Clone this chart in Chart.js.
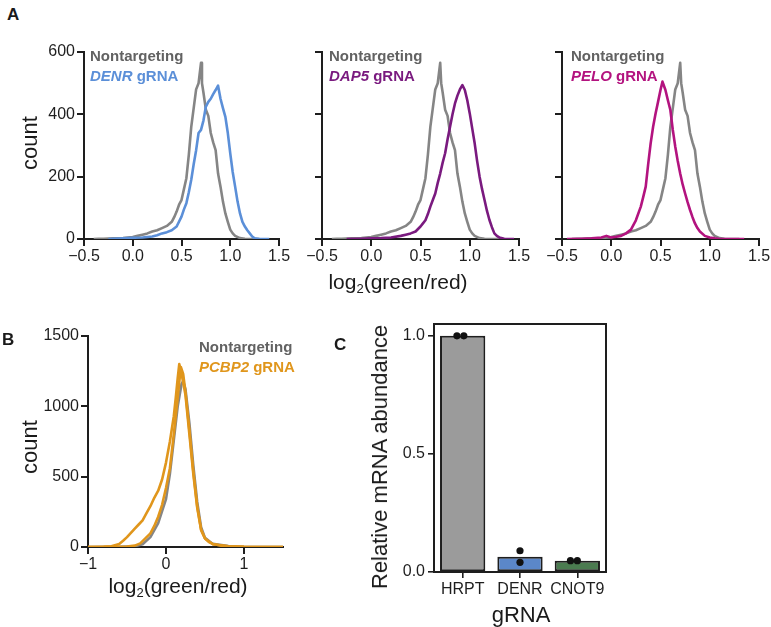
<!DOCTYPE html>
<html>
<head>
<meta charset="utf-8">
<script src="https://cdn.jsdelivr.net/npm/chart.js@4.4.1/dist/chart.umd.min.js"></script>
<style>
  body { margin: 0; background: #fff; }
  #fig { position: relative; width: 771px; height: 627px; font-family: "Liberation Sans", Arial, sans-serif; color: #1a1a1a; }
  #fig canvas { position: absolute; }
  .t { position: absolute; white-space: nowrap; }
  .panel { font-weight: bold; font-size: 17px; line-height: 17px; }
  .leg { font-weight: bold; font-size: 15px; line-height: 20px; }
  .ax { font-size: 21px; line-height: 21px; }
  .rot { font-size: 22px; line-height: 22px; transform: translate(-50%, -50%) rotate(-90deg); }
  .ctr { transform: translateX(-50%); }
  sub { font-size: 13px; vertical-align: -4px; line-height: 0; }
</style>
</head>
<body>
<div id="fig">
  <canvas id="a1" width="300" height="244" style="left:0px;top:36px"></canvas>
  <canvas id="a2" width="250" height="244" style="left:290px;top:36px"></canvas>
  <canvas id="a3" width="241" height="244" style="left:530px;top:36px"></canvas>
  <canvas id="b" width="300" height="260" style="left:0px;top:320px"></canvas>
  <canvas id="c" width="280" height="321" style="left:340px;top:306px"></canvas>

  <div class="t panel" style="left:7px;top:6px">A</div>
  <div class="t panel" style="left:2px;top:331px">B</div>
  <div class="t panel" style="left:334px;top:336px">C</div>

  <div class="t rot" style="left:30px;top:143px">count</div>
  <div class="t ax ctr" style="left:398px;top:271px">log<sub>2</sub>(green/red)</div>
  <div class="t rot" style="left:30px;top:447px">count</div>
  <div class="t ax ctr" style="left:178px;top:575px">log<sub>2</sub>(green/red)</div>
  <div class="t rot" style="left:380px;top:457px">Relative mRNA abundance</div>
  <div class="t ax ctr" style="left:521px;top:604px;font-size:22px">gRNA</div>

  <div class="t leg" style="left:90px;top:46px"><span style="color:#626262">Nontargeting</span><br><span style="color:#5b8fd8"><i>DENR</i> gRNA</span></div>
  <div class="t leg" style="left:329px;top:46px"><span style="color:#626262">Nontargeting</span><br><span style="color:#7a1a7f"><i>DAP5</i> gRNA</span></div>
  <div class="t leg" style="left:571px;top:46px"><span style="color:#626262">Nontargeting</span><br><span style="color:#b3137f"><i>PELO</i> gRNA</span></div>
  <div class="t leg" style="left:199px;top:337px"><span style="color:#626262">Nontargeting</span><br><span style="color:#e0961c"><i>PCBP2</i> gRNA</span></div>
</div>

<script>
// ---- panel A: histograms of log2(green/red) ----
const ctrlX = [-0.4, -0.35, -0.3, -0.2, -0.1, 0, 0.05, 0.1, 0.15, 0.2, 0.25, 0.3, 0.35, 0.4,
  0.425, 0.45, 0.475, 0.5, 0.525, 0.55, 0.575, 0.6, 0.625, 0.65, 0.675, 0.7,
  0.71, 0.725, 0.75, 0.775, 0.8, 0.825, 0.85, 0.875, 0.9, 0.925, 0.95, 0.975, 1.0, 1.025, 1.05,
  1.1, 1.15, 1.2, 1.3];
const ctrlCount = [0, 1, 1, 2, 3, 6, 10, 14, 18, 24, 28, 35, 42, 55,
  70, 88, 110, 125, 160, 195, 270, 360, 420, 480, 500, 565,
  500, 470, 415, 395, 340, 310, 285, 210, 168, 120, 82, 55, 30, 18, 10,
  3, 1, 0, 0];

const denrX = [-0.25, -0.1, 0, 0.1, 0.2, 0.25, 0.3, 0.35, 0.4, 0.45, 0.5, 0.525, 0.55, 0.575, 0.6,
  0.625, 0.65, 0.675, 0.7, 0.725, 0.75, 0.775, 0.8, 0.825, 0.85, 0.875, 0.9, 0.925, 0.95, 0.975,
  1.0, 1.025, 1.05, 1.075, 1.1, 1.125, 1.15, 1.175, 1.2, 1.225, 1.25, 1.3, 1.4];
const denrCount = [0, 2, 4, 5, 8, 12, 18, 22, 28, 40, 72, 95, 115, 150, 190,
  240, 285, 340, 350, 380, 425, 440, 450, 465, 478, 492, 450, 420, 392, 340,
  275, 215, 168, 120, 82, 55, 40, 28, 18, 8, 2, 0, 0];

const dap5X = [-0.25, -0.1, 0, 0.1, 0.2, 0.3, 0.35, 0.4, 0.45, 0.5, 0.525, 0.55, 0.575, 0.6, 0.625,
  0.65, 0.675, 0.7, 0.725, 0.75, 0.775, 0.8, 0.825, 0.85, 0.875, 0.9, 0.925, 0.95, 0.975, 1.0,
  1.025, 1.05, 1.075, 1.1, 1.125, 1.15, 1.175, 1.2, 1.225, 1.25, 1.275, 1.3, 1.35, 1.45];
const dap5Count = [0, 1, 2, 3, 5, 10, 14, 18, 24, 40, 50, 60, 80, 104, 125,
  146, 180, 210, 245, 275, 320, 360, 400, 435, 460, 480, 494, 478, 445, 403,
  355, 307, 250, 200, 160, 125, 90, 61, 38, 18, 10, 5, 1, 0];

const peloX = [-0.45, -0.3, -0.2, -0.1, -0.05, 0, 0.05, 0.1, 0.15, 0.2, 0.25, 0.3, 0.325, 0.35, 0.375,
  0.4, 0.425, 0.45, 0.475, 0.5, 0.52, 0.55, 0.575, 0.6, 0.625, 0.65, 0.675, 0.7, 0.725, 0.75,
  0.775, 0.8, 0.825, 0.85, 0.875, 0.9, 0.95, 1.0, 1.05, 1.1, 1.35];
const peloCount = [0, 1, 2, 5, 10, 5, 7, 10, 18, 30, 60, 104, 135, 168, 240,
  307, 360, 403, 440, 478, 505, 478, 445, 414, 350, 296, 250, 210, 175, 146,
  118, 93, 70, 50, 35, 24, 10, 5, 2, 0, 0];

const xTicksA = [-0.5, 0, 0.5, 1.0, 1.5];
const yTicksA = [0, 200, 400, 600];

// ---- panel B ----
const bCtrlX = [-1, -0.6, -0.4, -0.3, -0.2, -0.1, 0, 0.05, 0.1, 0.15, 0.2, 0.22, 0.25, 0.3, 0.35,
  0.4, 0.45, 0.5, 0.6, 0.8, 1.0, 1.5];
const bCtrlCount = [0, 2, 5, 20, 70, 170, 340, 520, 760, 1000, 1160, 1180, 1120, 880, 580,
  320, 140, 65, 22, 6, 2, 0];

const pcbp2X = [-1, -0.8, -0.7, -0.6, -0.55, -0.5, -0.45, -0.4, -0.35, -0.3, -0.25, -0.2, -0.15, -0.1, -0.05,
  0, 0.05, 0.1, 0.125, 0.15, 0.17, 0.2, 0.25, 0.3, 0.35, 0.4, 0.45, 0.5, 0.55, 0.6, 0.7, 0.8, 1.0, 1.5];
const pcbp2Count = [0, 2, 5, 22, 45, 70, 100, 130, 160, 190, 240, 290, 350, 400, 480,
  600, 750, 930, 1060, 1200, 1300, 1230, 1080, 800, 520, 280, 120, 60, 35, 22, 10, 5, 1, 0];

const pcbp2bX = [-1, -0.5, -0.4, -0.33, -0.2, -0.15, -0.1, -0.05, 0, 0.05, 0.1, 0.125, 0.15, 0.19, 0.22,
  0.25, 0.3, 0.35, 0.4, 0.45, 0.5, 0.6, 0.8, 1.0, 1.5];
const pcbp2bCount = [0, 3, 10, 26, 97, 150, 215, 300, 420, 560, 800, 930, 1060, 1280, 1230,
  1100, 830, 540, 290, 125, 60, 20, 5, 1, 0];

const xTicksB = [-1, 0, 1];
const yTicksB = [0, 500, 1000, 1500];

// ---- panel C: qPCR bars ----
const cCats = ["HRPT", "DENR", "CNOT9"];
const cMean = [1.0, 0.065, 0.048];
const cPointX = [-0.1, 0.02, 1, 1, 1.88, 2.0];
const cPointY = [1.0, 1.0, 0.09, 0.041, 0.048, 0.048];
const yTicksC = [0, 0.5, 1.0];

const FONT = "'Liberation Sans', Arial, sans-serif";
const INK = "#1e1e1e";
const GRAY = "#858585";

function pts(xs, ys) {
  return xs.map((x, i) => ({ x: x, y: ys[i] }));
}

function lineSet(xs, ys, color) {
  return {
    data: pts(xs, ys),
    borderColor: color,
    borderWidth: 2.6,
    pointRadius: 0,
    tension: 0,
    borderJoinStyle: "round",
  };
}

function minus(v, digits) {
  const s = Math.abs(v).toFixed(digits);
  return v < 0 ? "\u2212" + s : s;
}

function histChart(id, sets, o) {
  new Chart(document.getElementById(id), {
    type: "line",
    data: { datasets: sets },
    options: {
      responsive: false,
      animation: false,
      layout: { padding: { left: 0, top: o.padTop, right: o.padRight, bottom: 0 } },
      plugins: { legend: { display: false }, tooltip: { enabled: false } },
      scales: {
        x: {
          type: "linear",
          min: o.xMin,
          max: o.xMax,
          afterBuildTicks: (s) => { s.ticks = o.xTicks.map((v) => ({ value: v })); },
          afterFit: (s) => { s.height = o.xHeight; s.paddingLeft = 0; s.paddingRight = 0; },
          ticks: {
            autoSkip: false, maxRotation: 0, padding: 1, color: INK,
            font: { family: FONT, size: 16 },
            callback: (v) => minus(v, o.xDigits),
          },
          grid: { drawOnChartArea: false, drawTicks: true, tickLength: 7, color: INK, lineWidth: 2 },
          border: { display: true, color: INK, width: 2 },
        },
        y: {
          min: 0,
          max: o.yMax,
          afterBuildTicks: (s) => { s.ticks = o.yTicks.map((v) => ({ value: v })); },
          afterFit: (s) => { s.width = o.yWidth; s.paddingTop = 0; s.paddingBottom = 0; },
          ticks: {
            display: o.yLabels, padding: 2, color: INK,
            font: { family: FONT, size: 16 },
            callback: (v) => String(v),
          },
          grid: { drawOnChartArea: false, drawTicks: true, tickLength: 7, color: INK, lineWidth: 2 },
          border: { display: true, color: INK, width: 2 },
        },
      },
    },
  });
}

const optsA = { xMin: -0.5, xMax: 1.5, xTicks: xTicksA, xDigits: 1, yMax: 600, yTicks: yTicksA, padTop: 16, xHeight: 41 };

histChart("a1", [lineSet(denrX, denrCount, "#5b8fd8"), lineSet(ctrlX, ctrlCount, GRAY)],
  Object.assign({}, optsA, { yWidth: 84, padRight: 21, yLabels: true }));
histChart("a2", [lineSet(dap5X, dap5Count, "#7a1a7f"), lineSet(ctrlX, ctrlCount, GRAY)],
  Object.assign({}, optsA, { yWidth: 32, padRight: 21, yLabels: false }));
histChart("a3", [lineSet(peloX, peloCount, "#b3137f"), lineSet(ctrlX, ctrlCount, GRAY)],
  Object.assign({}, optsA, { yWidth: 32, padRight: 12, yLabels: false }));

histChart("b", [
  lineSet(pcbp2X, pcbp2Count, "#e0961c"),
  lineSet(pcbp2bX, pcbp2bCount, "#e0961c"),
  lineSet(bCtrlX, bCtrlCount, GRAY),
], { xMin: -1, xMax: 1.5, xTicks: xTicksB, xDigits: 0, yMax: 1500, yTicks: yTicksB,
     padTop: 16, padRight: 17, xHeight: 33, yWidth: 88, yLabels: true });

// box around panel C plot area
const frame = {
  id: "frame",
  afterDatasetsDraw(chart) {
    const a = chart.chartArea;
    const ctx = chart.ctx;
    ctx.save();
    ctx.strokeStyle = INK;
    ctx.lineWidth = 2;
    ctx.strokeRect(a.left, a.top, a.right - a.left, a.bottom - a.top);
    ctx.restore();
  },
};

new Chart(document.getElementById("c"), {
  type: "bar",
  data: {
    labels: cCats,
    datasets: [
      {
        type: "scatter",
        xAxisID: "xp",
        order: 0,
        data: pts(cPointX, cPointY),
        backgroundColor: "#111",
        borderWidth: 0,
        pointRadius: 3.6,
      },
      {
        type: "bar",
        order: 1,
        data: cMean,
        backgroundColor: ["#9b9b9b", "#5b87c9", "#4b7b50"],
        borderColor: INK,
        borderWidth: 2,
        borderSkipped: false,
        grouped: false,
        categoryPercentage: 1.0,
        barPercentage: 0.79,
      },
    ],
  },
  options: {
    responsive: false,
    animation: false,
    layout: { padding: { left: 0, top: 18, right: 14, bottom: 0 } },
    plugins: { legend: { display: false }, tooltip: { enabled: false } },
    scales: {
      x: {
        type: "category",
        offset: true,
        afterFit: (s) => { s.height = 55; s.paddingLeft = 0; s.paddingRight = 0; },
        ticks: { autoSkip: false, maxRotation: 0, minRotation: 0, padding: 2, color: INK, font: { family: FONT, size: 16 } },
        grid: { drawOnChartArea: false, drawTicks: true, tickLength: 6, color: INK, lineWidth: 1.6, offset: false },
        border: { display: true, color: INK, width: 2 },
      },
      xp: { type: "linear", min: -0.5, max: 2.5, offset: false, grace: 0, display: false },
      y: {
        min: 0,
        max: 1.05,
        afterBuildTicks: (s) => { s.ticks = yTicksC.map((v) => ({ value: v })); },
        afterFit: (s) => { s.width = 94; s.paddingTop = 0; s.paddingBottom = 0; },
        ticks: { padding: 3, color: INK, font: { family: FONT, size: 16 }, callback: (v) => v.toFixed(1) },
        grid: { drawOnChartArea: false, drawTicks: true, tickLength: 6, color: INK, lineWidth: 1.6 },
        border: { display: true, color: INK, width: 2 },
      },
    },
  },
  plugins: [frame],
});
</script>
</body>
</html>
